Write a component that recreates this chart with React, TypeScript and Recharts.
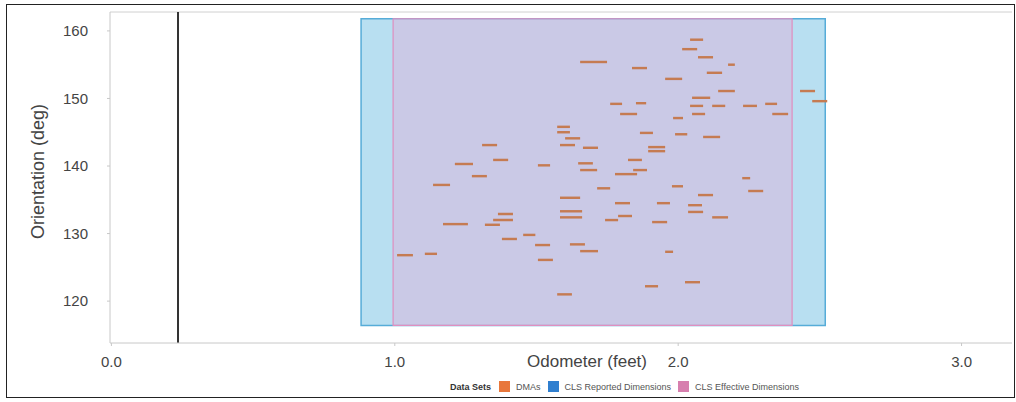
import React from 'react';
import { ComposedChart, XAxis, YAxis, ReferenceArea, ReferenceLine, Scatter } from 'recharts';

// DMA segments: start odometer (ft), end odometer (ft), orientation (deg)
const dmaStart = [1.654, 1.837, 2.042, 2.014, 1.954, 2.070, 2.176, 2.101, 2.141, 2.049, 2.042, 2.120, 2.229, 2.307, 2.332, 2.049, 2.088, 2.430, 2.473, 1.760, 1.851, 1.795, 1.865, 1.982, 1.989, 1.894, 1.894, 1.823, 1.573, 1.573, 1.601, 1.583, 1.664, 1.647, 1.654, 1.777, 1.841, 1.714, 1.978, 1.583, 1.777, 1.925, 1.583, 1.583, 1.788, 1.742, 1.908, 1.495, 1.618, 1.654, 1.954, 1.505, 1.883, 1.573, 2.024, 2.226, 2.247, 2.070, 2.035, 2.035, 2.120, 1.212, 1.272, 1.135, 1.308, 1.347, 1.364, 1.347, 1.318, 1.170, 1.378, 1.453, 1.008, 1.106, 1.505];
const dmaEnd = [1.749, 1.890, 2.088, 2.067, 2.014, 2.123, 2.200, 2.155, 2.200, 2.113, 2.088, 2.166, 2.278, 2.349, 2.388, 2.095, 2.148, 2.483, 2.526, 1.802, 1.887, 1.855, 1.911, 2.017, 2.032, 1.954, 1.954, 1.872, 1.618, 1.618, 1.654, 1.636, 1.717, 1.699, 1.714, 1.855, 1.890, 1.760, 2.017, 1.654, 1.830, 1.971, 1.661, 1.661, 1.837, 1.788, 1.961, 1.548, 1.671, 1.717, 1.982, 1.558, 1.929, 1.625, 2.077, 2.254, 2.300, 2.123, 2.084, 2.088, 2.176, 1.276, 1.325, 1.195, 1.361, 1.400, 1.417, 1.417, 1.371, 1.258, 1.431, 1.496, 1.064, 1.149, 1.548];
const dmaOrientation = [155.4, 154.5, 158.7, 157.3, 152.9, 156.1, 155.0, 153.8, 151.1, 150.1, 148.9, 148.9, 148.9, 149.2, 147.7, 147.7, 144.3, 151.1, 149.6, 149.2, 149.3, 147.7, 144.9, 147.1, 144.7, 142.8, 142.2, 140.9, 145.8, 145.0, 144.1, 143.1, 142.7, 140.4, 139.4, 138.8, 139.4, 136.7, 137.0, 135.3, 134.5, 134.5, 133.3, 132.4, 132.6, 132.0, 131.7, 128.3, 128.4, 127.4, 127.3, 126.1, 122.2, 121.0, 122.8, 138.2, 136.3, 135.7, 134.2, 133.2, 132.4, 140.3, 138.5, 137.2, 143.1, 140.9, 132.9, 132.0, 131.3, 131.4, 129.2, 129.8, 126.8, 127.0, 140.1];

// CLS reported / effective dimensions: [start, end] odometer, [min, max] orientation
const clsReportedOdo = [0.881, 2.519];
const clsReportedOri = [116.4, 161.8];
const clsEffectiveOdo = [0.994, 2.402];
const clsEffectiveOri = [116.4, 161.8];

// reference weld/marker line
const markerOdometer = 0.235;

const xTicks = [0, 1, 2, 3];
const yTicks = [120, 130, 140, 150, 160];
const xDomain = [-0.005, 3.178];
const yDomain = [113.8, 162.8];

const legendItems = [
  { label: 'DMAs', color: '#e8773b' },
  { label: 'CLS Reported Dimensions', color: '#2f7fcf' },
  { label: 'CLS Effective Dimensions', color: '#d77fae' },
];

const FONT = '"Liberation Sans", Arial, sans-serif';
const DMA_HALF = 0.18;

export default function App() {
  const dmas = dmaStart.map((s, i) => ({ s, e: dmaEnd[i], o: dmaOrientation[i] }));
  return (
    <div style={{ position: 'absolute', left: 0, top: 0, width: 1016, height: 402, background: '#fff' }}>
      <ComposedChart width={1016} height={402} margin={{ top: 12, right: 4, bottom: 29, left: 0 }}>
        <XAxis
          type="number"
          dataKey="x"
          domain={xDomain}
          ticks={xTicks}
          allowDataOverflow
          tickFormatter={(v: number) => v.toFixed(1)}
          height={30}
          stroke="#c8c8c8"
          tickSize={3}
          tickMargin={10}
          tick={{ fill: '#444', fontSize: 15, fontFamily: FONT }}
          label={{
            content: (props: any) => {
              const vb = props.viewBox || { x: 110, y: 343 };
              return (
                <text x={vb.x + 477} y={vb.y + 20} textAnchor="middle" dominantBaseline="middle" fill="#444" fontSize={17} fontFamily={FONT}>
                  Odometer (feet)
                </text>
              );
            },
          }}
        />
        <YAxis
          type="number"
          dataKey="y"
          domain={yDomain}
          ticks={yTicks}
          allowDataOverflow
          width={110}
          stroke="#c8c8c8"
          tickSize={3}
          tickMargin={19}
          tick={{ fill: '#444', fontSize: 15, fontFamily: FONT }}
          label={{
            content: (props: any) => {
              const vb = props.viewBox || { x: 0, y: 12, height: 331 };
              const cx = 39;
              const cy = vb.y + vb.height / 2 - 6;
              return (
                <text x={cx} y={cy} textAnchor="middle" dominantBaseline="middle" transform={`rotate(-90 ${cx} ${cy})`} fill="#444" fontSize={18} fontFamily={FONT}>
                  Orientation (deg)
                </text>
              );
            },
          }}
        />
        <ReferenceLine y={yDomain[1]} stroke="#d0d0d0" strokeWidth={1} ifOverflow="visible" />
        <ReferenceArea
          x1={clsReportedOdo[0]}
          x2={clsReportedOdo[1]}
          y1={clsReportedOri[0]}
          y2={clsReportedOri[1]}
          fill="#b8dff1"
          fillOpacity={1}
          stroke="#56acd8"
          strokeWidth={1.5}
          ifOverflow="visible"
        />
        <ReferenceArea
          x1={clsEffectiveOdo[0]}
          x2={clsEffectiveOdo[1]}
          y1={clsEffectiveOri[0]}
          y2={clsEffectiveOri[1]}
          fill="#dcb4dc"
          fillOpacity={0.5}
          stroke="#e08fbf"
          strokeWidth={1.2}
          ifOverflow="visible"
        />
        {dmas.map((d, i) => (
          <ReferenceArea
            key={i}
            x1={d.s}
            x2={d.e}
            y1={d.o - DMA_HALF}
            y2={d.o + DMA_HALF}
            fill="#c57b52"
            fillOpacity={1}
            stroke="none"
            ifOverflow="visible"
          />
        ))}
        <ReferenceLine x={markerOdometer} stroke="#333" strokeWidth={2} ifOverflow="visible" />
        <Scatter data={[]} isAnimationActive={false} />
      </ComposedChart>
      <div
        style={{
          position: 'absolute',
          left: 450,
          top: 381,
          display: 'flex',
          alignItems: 'center',
          fontFamily: FONT,
          fontSize: 9,
          color: '#555',
          whiteSpace: 'nowrap',
        }}
      >
        <span style={{ fontWeight: 'bold', color: '#333', marginRight: 8 }}>Data Sets</span>
        {legendItems.map((it) => (
          <span key={it.label} style={{ display: 'flex', alignItems: 'center', marginRight: 7 }}>
            <span style={{ display: 'inline-block', width: 11, height: 11, background: it.color, marginRight: 6 }} />
            {it.label}
          </span>
        ))}
      </div>
      <div
        style={{
          position: 'absolute',
          left: 6,
          top: 4,
          width: 1007,
          height: 392,
          border: '1.5px solid #222',
          pointerEvents: 'none',
        }}
      />
    </div>
  );
}
